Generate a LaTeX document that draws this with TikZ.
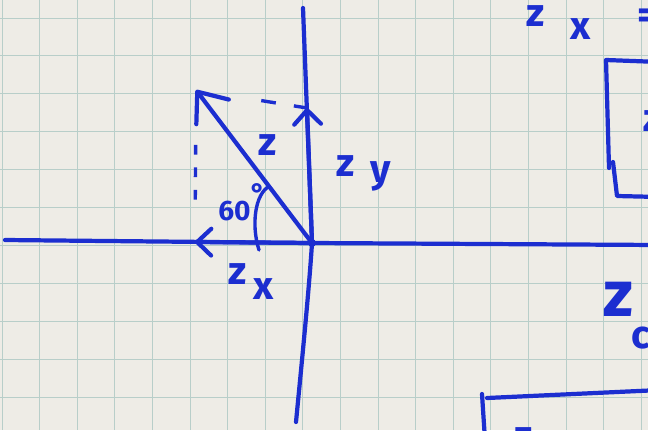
\documentclass[tikz,border=0pt]{standalone}
\usepackage{fontspec}
\newfontfamily\handfont{Fira Sans}
\usetikzlibrary{positioning, calc, arrows.meta}
\definecolor{inkBlue} {RGB}{ 28, 46,208}
\definecolor{paperBg} {RGB}{238,236,230}
\definecolor{gridLn}  {RGB}{184,206,201}
\tikzset{
  %% pen stroke
  ink/.style={
    line width=3pt, draw=inkBlue,
    line cap=round, line join=round
  },
  inkThin/.style={ink, line width=2.4pt},
  %% the vector itself (open barb)
  arrV/.style={
    ink, -{Straight Barb[length=18pt,width=29pt,round]}
  },
  %% component arrows on the axes
  arrComp/.style={
    ink, -{Straight Barb[length=10pt,width=19pt,round]}
  },
  %% dashed projection lines
  projDash/.style={
    inkThin, line cap=butt,
    dash pattern=on 10.5pt off 13pt
  },
  hand/.style={
    font=\handfont\bfseries\fontsize{28}{30}\selectfont,
    text=inkBlue, inner sep=0pt
  },
  handSm/.style={hand, font=\handfont\bfseries\fontsize{20}{22}\selectfont},
  handBig/.style={hand, font=\handfont\bfseries\fontsize{46}{48}\selectfont},
  gridLine/.style={draw=gridLn, line width=0.6pt}
}

\begin{document}
\begin{tikzpicture}[x=0.025cm, y=-0.025cm]

%% ═══════════════════════════════════════════════════════════
%%  PAPER + SQUARE GRID
%% ═══════════════════════════════════════════════════════════

\fill[paperBg] (0,0) rectangle (648,430);
\useasboundingbox (0,0) rectangle (648,430);
\clip (0,0) rectangle (648,430);

\foreach \gx in {0,...,17}
  \draw[gridLine] ({2+37.6*\gx},0) -- ({2+37.6*\gx},430);
\foreach \gy in {0,...,11}
  \draw[gridLine] (0,{18+37.9*\gy}) -- (648,{18+37.9*\gy});

%% ═══════════════════════════════════════════════════════════
%%  AXES
%% ═══════════════════════════════════════════════════════════

\coordinate (O)  at (312,243);
\coordinate (xL) at (5,240);
\coordinate (xR) at (660,245);
\coordinate (yT) at (303,8);
\coordinate (yB) at (296,422);

\draw[ink] (xL) -- (O) -- (xR);
\draw[ink] (yT) -- (O) .. controls (309,290) and (302,360) .. (yB);
\fill[inkBlue] (O) circle (4);

%% ═══════════════════════════════════════════════════════════
%%  VECTOR z AND ITS COMPONENTS
%% ═══════════════════════════════════════════════════════════

\coordinate (tipZ)  at (196,90);
\coordinate (zyTip) at (307,108);
\coordinate (zxTip) at (195,242);

\draw[arrV] (O) -- (tipZ);
\draw[arrComp] (O) -- (zyTip);
\draw[arrComp] (O) -- (zxTip);

% projections onto the axes
\draw[projDash, shorten <=47pt] (tipZ) -- (zyTip);
\draw[projDash, dash pattern=on 7pt off 9pt,
  shorten <=39pt, shorten >=25pt] (tipZ) -- (zxTip);

% angle between z and the x-axis
\coordinate (arcS) at ($(O)!0.37!(tipZ)$);
\coordinate (arcE) at (259,250);
\draw[inkThin] (arcS) .. controls (255,194) and (251,225) .. (arcE);

%% ═══════════════════════════════════════════════════════════
%%  LABELS
%% ═══════════════════════════════════════════════════════════

\node[hand] (lblZ) at (268,145) {z};

\node[hand] (lblZyZ) at (346,166) {z};
\node[hand] (lblZyY) at (381,176) {y};

\node[hand] (lblZxZ) at (238,274) {z};
\node[hand] (lblZxX) at (264,289) {x};

\node[handSm, anchor=base west] (lblAng) at (218,220) {60\raisebox{12pt}{°}};

%% ═══════════════════════════════════════════════════════════
%%  RIGHT-HAND WORKING (cut by the page edge)
%% ═══════════════════════════════════════════════════════════

\node[hand] (headZ)  at (536,16) {z};
\node[hand] (headX)  at (581,29) {x};
\node[hand] (headEq) at (648,19) {=};

\draw[ink] (660,62) -- (606,60) -- (609,168);
\draw[ink] (613,162) -- (617,196) -- (660,197);
\node[hand] (brZ) at (653,121) {z};

\node[handBig] (midZ) at (618,299) {z};
\node[hand] (midC) at (641,338) {c};

\draw[ink] (482,394) -- (485,440);
\draw[ink] (487,398) -- (660,390);
\node[hand] (botZ) at (524,438) {z};

\end{tikzpicture}
\end{document}
